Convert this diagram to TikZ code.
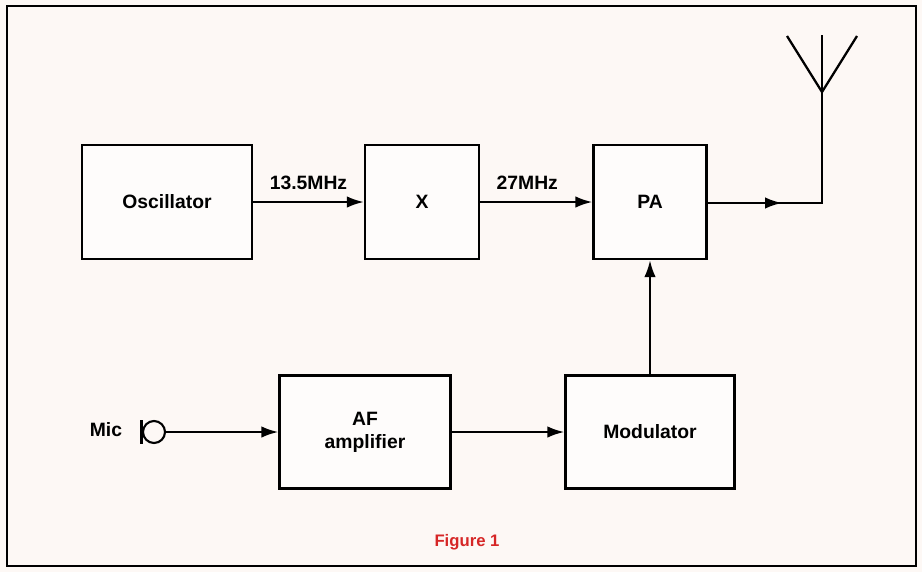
\documentclass[tikz,border=0pt]{standalone}
\usepackage{fontspec}
\setmainfont{Liberation Sans}
\usetikzlibrary{arrows.meta, positioning}
\definecolor{paper}{RGB}{253,248,245}
\definecolor{figred}{RGB}{214,38,38}
\tikzset{
	blockbox/.style={draw, line width=1.3pt, fill=white!60!paper, font=\fontsize{11}{13}\selectfont\bfseries, align=center, inner sep=0pt},
	wire/.style={line width=1.3pt},
	sig/.style={wire, -{Latex[length=3.4mm,width=2.3mm]}},
	freqlabel/.style={font=\fontsize{11}{13}\selectfont\bfseries}
}

\begin{document}
\begin{tikzpicture}[x=0.02cm, y=-0.02cm]
      % page and outer frame
      \fill[paper] (0,0) rectangle (922,572);
      \useasboundingbox (0,0) rectangle (922,572);
      \draw[line width=1.2pt] (7,6) rectangle (916,566);
      % upper row
      \node[blockbox, minimum width=3.4cm, minimum height=2.28cm] (osc) at (167,202) {Oscillator};
      \node[blockbox, minimum width=2.28cm, minimum height=2.28cm] (mult) at (422,202) {X};
      \node[blockbox, minimum width=2.26cm, minimum height=2.28cm] (pa) at (650,202) {PA};
      % lower row
      \node[blockbox, minimum width=3.42cm, minimum height=2.26cm] (afamp) at (365,432) {AF\\amplifier};
      \node[blockbox, minimum width=3.38cm, minimum height=2.26cm] (mod) at (650,432) {Modulator};
      % microphone
      \node[font=\fontsize{11}{13}\selectfont\bfseries] (mic) at (106,430) {Mic};
      \node[draw, circle, line width=1.2pt, minimum size=0.44cm, inner sep=0pt] (micbody) at (154,432) {};
      \draw[line width=2pt] (micbody.west) ++(-0.5,-12) -- ++(0,24);
      % signal path
      \draw[sig] (osc) -- node[freqlabel, above=3pt] {13.5MHz} (mult);
      \draw[sig] (mult) -- node[freqlabel, above=3pt, pos=0.42] {27MHz} (pa);
      \draw[sig] (micbody) -- (afamp);
      \draw[sig] (afamp) -- (mod);
      \draw[sig] (mod) -- (pa);
      % output to aerial
      \coordinate (tip) at (782,203);
      \coordinate (bend) at (822,203);
      \coordinate (feed) at (822,92);
      \draw[wire] (pa.east |- tip) -- (bend) -- (feed);
      \draw[sig] (pa.east |- tip) -- (tip);
      \draw[wire] (feed) -- (822,35);
      \draw[wire] (feed) -- (787,36);
      \draw[wire] (feed) -- (857,36);
      % caption
      \node[font=\fontsize{9.5}{11}\selectfont\bfseries, text=figred] (caption) at (467,542) {Figure 1};
    \end{tikzpicture}
\end{document}
